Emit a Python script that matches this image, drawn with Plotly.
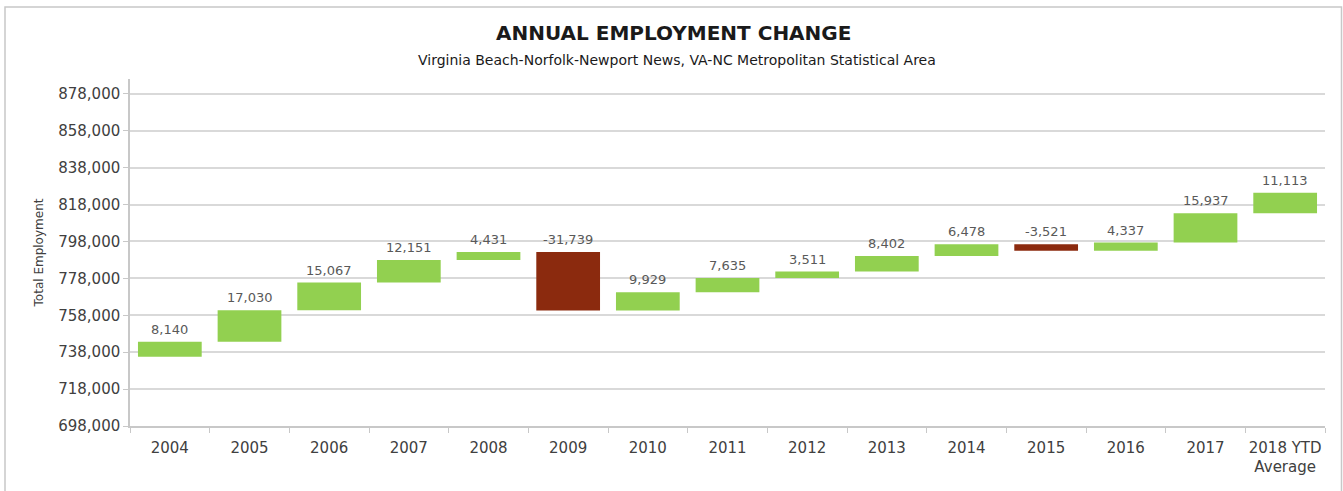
import plotly.graph_objects as go

# Annual change in total employment, Virginia Beach-Norfolk-Newport News MSA
years = ["2004", "2005", "2006", "2007", "2008", "2009", "2010", "2011",
         "2012", "2013", "2014", "2015", "2016", "2017", "2018 YTD<br>Average"]
changes = [8140, 17030, 15067, 12151, 4431, -31739, 9929, 7635,
           3511, 8402, 6478, -3521, 4337, 15937, 11113]
start_level = 735500  # total employment before the 2004 change

y_ticks = [698000, 718000, 738000, 758000, 778000, 798000, 818000, 838000, 858000, 878000]

GREEN = "#92D050"
RED = "#8B2A0E"
FONT = "DejaVu Sans"

fig = go.Figure(go.Waterfall(
    x=years,
    y=changes,
    base=start_level,
    measure=["relative"] * len(changes),
    increasing=dict(marker=dict(color=GREEN)),
    decreasing=dict(marker=dict(color=RED)),
    connector=dict(visible=False),
    width=0.8,
    hoverinfo="skip",
    textinfo="none",
))

# value labels sit above the higher end of each bar
# (category positions given by index so year strings are not read as numbers)
level = start_level
for i, ch in enumerate(changes):
    top = max(level, level + ch)
    level += ch
    fig.add_annotation(
        x=i, y=top, text=f"{ch:,}", showarrow=False,
        yanchor="bottom", yshift=3,
        font=dict(family=FONT, size=13, color="#595959"),
    )

# chart title and subtitle, centred on the whole chart area
fig.add_annotation(
    x=0.4544, xref="paper", xanchor="center",
    y=1.1326, yref="paper", yanchor="middle",
    text="<b>ANNUAL EMPLOYMENT CHANGE</b>", showarrow=False,
    font=dict(family=FONT, size=20, color="#1a1a1a"),
)
fig.add_annotation(
    x=0.4577, xref="paper", xanchor="center",
    y=1.0548, yref="paper", yanchor="middle",
    text="Virginia Beach-Norfolk-Newport News, VA-NC Metropolitan Statistical Area",
    showarrow=False,
    font=dict(family=FONT, size=14, color="#1a1a1a"),
)

# outer chart frame
fig.add_shape(
    type="rect", xref="paper", yref="paper",
    x0=-0.1046, x1=1.0138, y0=-0.4, y1=1.2075,
    line=dict(color="#c8c8c8", width=1.5), fillcolor="rgba(0,0,0,0)",
    layer="below",
)

fig.update_layout(
    width=1343, height=491,
    margin=dict(l=130, r=18, t=79, b=65),
    paper_bgcolor="white",
    plot_bgcolor="white",
    showlegend=False,
    font=dict(family=FONT, color="#404040"),
    xaxis=dict(
        type="category",
        categoryorder="array", categoryarray=years,
        tickangle=0, automargin=False, ticklabelstandoff=7,
        showline=True, linecolor="#c8c8c8", linewidth=1.5,
        ticks="outside", ticklen=5, tickcolor="#c8c8c8", tickson="boundaries",
        tickfont=dict(family=FONT, size=15, color="#404040"),
        showgrid=False,
    ),
    yaxis=dict(
        range=[698000, 886000],
        automargin=False,
        tickvals=y_ticks,
        ticktext=[f"{v:,}" for v in y_ticks],
        showline=True, linecolor="#c8c8c8", linewidth=1.5,
        ticks="outside", ticklen=5, tickcolor="#c8c8c8",
        showgrid=True, gridcolor="#d9d9d9", gridwidth=1.5,
        zeroline=False,
        tickfont=dict(family=FONT, size=15, color="#404040"),
        title=dict(text="Total Employment", standoff=12,
                   font=dict(family=FONT, size=12, color="#404040")),
    ),
)

fig.write_html("out.html")
